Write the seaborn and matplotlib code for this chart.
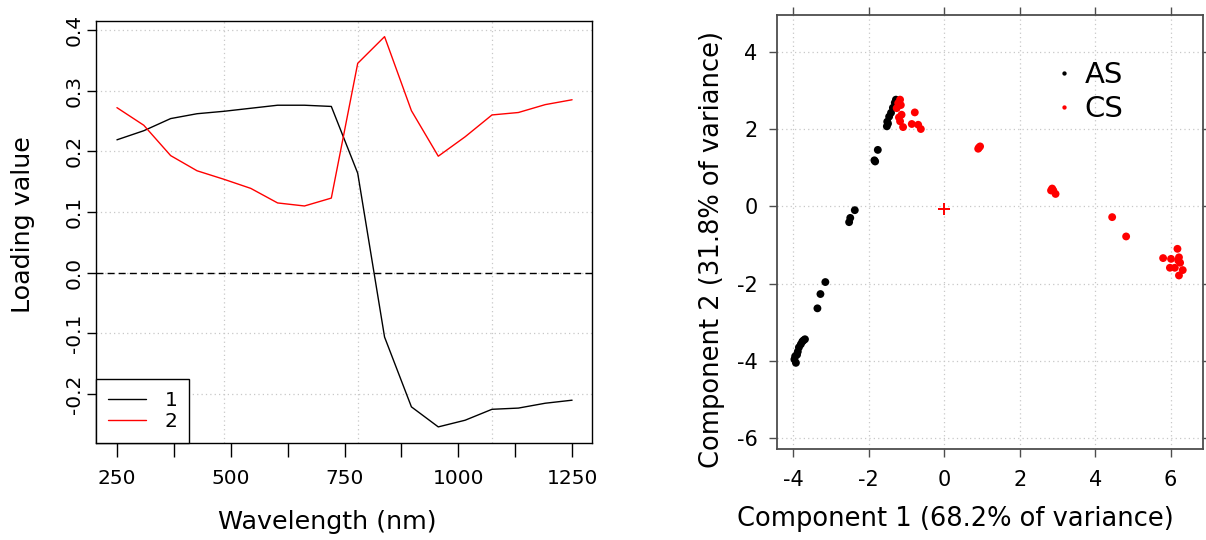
import matplotlib
matplotlib.use("Agg")
import matplotlib.pyplot as plt
import numpy as np
import pandas as pd
import seaborn as sns

# ---------------- data ----------------
wavelength = [250, 309, 368, 426, 485, 544, 603, 662, 721, 779, 838, 897,
              956, 1015, 1074, 1132, 1191, 1250]
loading_1 = [0.219, 0.234, 0.254, 0.262, 0.266, 0.271, 0.276, 0.276, 0.274,
             0.164, -0.106, -0.221, -0.254, -0.243, -0.225, -0.223, -0.215, -0.210]
loading_2 = [0.272, 0.243, 0.193, 0.168, 0.154, 0.139, 0.115, 0.110, 0.123,
             0.345, 0.389, 0.267, 0.192, 0.224, 0.260, 0.264, 0.277, 0.285]
wl_tick_labels = ["250", "", "500", "", "750", "", "1000", "", "1250"]
wl_ticks = [250, 375, 500, 625, 750, 875, 1000, 1125, 1250]
loading_ticks = [-0.2, -0.1, 0.0, 0.1, 0.2, 0.3, 0.4]

as_x = [-3.93, -3.97, -3.95, -3.90, -3.88, -3.85, -3.80, -3.76, -3.73, -3.69,
        -3.36, -3.28, -3.15, -2.52, -2.49, -2.37, -1.85, -1.83, -1.76,
        -1.52, -1.51, -1.49, -1.46, -1.41, -1.36, -1.31, -1.28]
as_y = [-4.05, -3.96, -3.88, -3.84, -3.76, -3.65, -3.57, -3.50, -3.47, -3.44,
        -2.64, -2.27, -1.96, -0.41, -0.30, -0.10, 1.19, 1.16, 1.46,
        2.07, 2.19, 2.14, 2.32, 2.42, 2.55, 2.68, 2.76]
cs_x = [-1.17, -1.22, -1.26, -1.13, -1.17, -0.78, -1.09, -0.86, -0.69, -0.62,
        -1.20, -1.15,
        0.90, 0.95, 0.92, 2.86, 2.83, 2.95, 2.89, 4.45, 4.82,
        6.18, 5.80, 6.01, 6.22, 6.25, 5.98, 6.11, 6.32, 6.22, 6.20]
cs_y = [2.76, 2.67, 2.54, 2.37, 2.20, 2.43, 2.05, 2.13, 2.11, 2.00,
        2.30, 2.62,
        1.49, 1.55, 1.52, 0.46, 0.41, 0.32, 0.41, -0.28, -0.78,
        -1.10, -1.34, -1.36, -1.32, -1.46, -1.59, -1.59, -1.65, -1.79, -1.40]
center_x = [0.0]
center_y = [-0.06]
groups = ["AS", "CS"]

# ---------------- style ----------------
sns.set_theme(style="white")
plt.rcParams["font.family"] = ["DejaVu Sans"]
plt.rcParams["axes.unicode_minus"] = False
plt.rcParams["text.color"] = "black"
plt.rcParams["axes.labelcolor"] = "black"
plt.rcParams["xtick.color"] = "black"
plt.rcParams["ytick.color"] = "black"
plt.rcParams["xtick.labelcolor"] = "black"
plt.rcParams["ytick.labelcolor"] = "black"

fig = plt.figure(figsize=(12.06, 5.4), dpi=100)
ax1 = fig.add_axes([0.0796, 0.1791, 0.4110, 0.7826])
ax2 = fig.add_axes([0.6440, 0.1685, 0.3533, 0.8037])

grid_kw = dict(color="#c8c8c8", linestyle=(0, (1, 2.5)), linewidth=0.9, zorder=0)

# ---------------- left: loadings ----------------
df_load = pd.DataFrame({
    "wavelength": wavelength * 2,
    "loading": loading_1 + loading_2,
    "pc": ["1"] * len(wavelength) + ["2"] * len(wavelength),
})
for yv in loading_ticks:
    ax1.axhline(yv, **grid_kw)
for i in (4, 9, 14):
    ax1.axvline(wavelength[i], **grid_kw)
ax1.axhline(0.0, color="black", linestyle=(0, (5, 3)), linewidth=1.0, zorder=1)
sns.lineplot(data=df_load, x="wavelength", y="loading", hue="pc",
             palette={"1": "black", "2": "#ff0000"}, linewidth=1.0,
             ax=ax1, zorder=3)
ax1.set_xlim(204, 1293)
ax1.set_ylim(-0.281, 0.4153)
ax1.set_xticks(wl_ticks)
ax1.set_xticklabels(wl_tick_labels)
ax1.set_yticks(loading_ticks)
ax1.set_yticklabels([f"{v:.1f}" for v in loading_ticks], rotation=90, va="center")
ax1.tick_params(axis="x", direction="out", length=10, width=1, pad=8.5,
                labelsize=14.5, color="black", labelcolor="black", bottom=True)
ax1.tick_params(axis="y", direction="out", length=6.3, width=1, pad=2.5,
                labelsize=14.5, color="black", labelcolor="black", left=True)
for s in ax1.spines.values():
    s.set_color("black")
    s.set_linewidth(1.0)
ax1.set_xlabel("Wavelength (nm)", fontsize=18.3, color="black")
ax1.set_ylabel("Loading value", fontsize=18.3, color="black")
ax1.xaxis.label.set_va("center")
ax1.yaxis.label.set_va("center")
ax1.xaxis.set_label_coords(0.466, -0.186)
ax1.yaxis.set_label_coords(-0.147, 0.517)
leg1 = ax1.legend(loc="lower left", bbox_to_anchor=(0, 0), borderaxespad=0,
                  fancybox=False, edgecolor="black", framealpha=1, fontsize=14.5,
                  handlelength=1.9, handletextpad=0.9, borderpad=0.6,
                  labelspacing=0.1, title=None)
leg1.get_frame().set_linewidth(1.0)
for t in leg1.get_texts():
    t.set_color("black")

# ---------------- right: scores ----------------
df_sc = pd.DataFrame({
    "c1": as_x + cs_x,
    "c2": as_y + cs_y,
    "group": [groups[0]] * len(as_x) + [groups[1]] * len(cs_x),
})
ax2.set_xticks([-4, -2, 0, 2, 4, 6])
ax2.set_yticks([-6, -4, -2, 0, 2, 4])
ax2.grid(True, **{k: v for k, v in grid_kw.items() if k != "zorder"})
ax2.set_axisbelow(True)
sns.scatterplot(data=df_sc, x="c1", y="c2", hue="group", hue_order=groups,
                palette={"AS": "black", "CS": "#ff0000"}, s=32, linewidth=0,
                ax=ax2, zorder=3)
ax2.plot(center_x, center_y, marker="+", color="#ff0000", markersize=9,
         markeredgewidth=1.4, linestyle="none", zorder=4)
ax2.set_xlim(-4.44, 6.85)
ax2.set_ylim(-6.28, 4.95)
ax2.tick_params(axis="both", direction="out", length=6.1, width=1.0,
                color="#4d4d4d", labelcolor="black", labelsize=15,
                bottom=True, top=True, left=True, right=True,
                labelbottom=True, labelleft=True, labeltop=False, labelright=False)
ax2.tick_params(axis="x", pad=8.8)
ax2.tick_params(axis="y", pad=7.6)
for s in ax2.spines.values():
    s.set_color("#4d4d4d")
    s.set_linewidth(1.3)
ax2.set_xlabel("Component 1 (68.2% of variance)", fontsize=18.5, color="black")
ax2.set_ylabel("Component 2 (31.8% of variance)", fontsize=18.5, color="black")
ax2.xaxis.label.set_va("center")
ax2.yaxis.label.set_va("center")
ax2.xaxis.set_label_coords(0.42, -0.161)
ax2.yaxis.set_label_coords(-0.152, 0.46)
leg2 = ax2.legend(loc="upper left", bbox_to_anchor=(0.655, 0.894),
                  frameon=False, fontsize=21, markerscale=0.55,
                  handlelength=0.6, handletextpad=0.38, borderpad=0,
                  borderaxespad=0, labelspacing=0.22, title=None)
for t in leg2.get_texts():
    t.set_color("black")

fig.savefig("out.png", dpi=100)
